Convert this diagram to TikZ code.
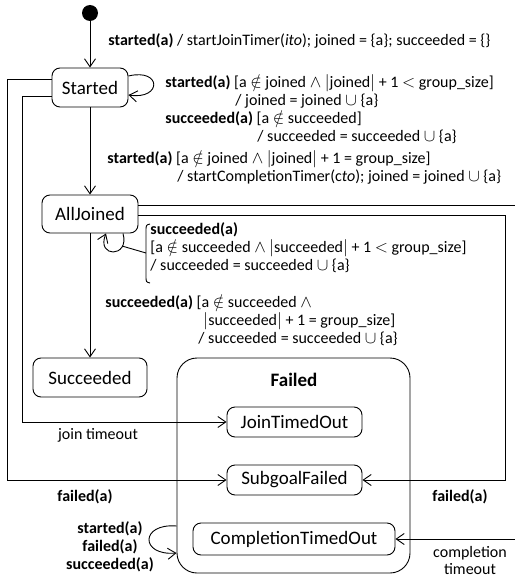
\documentclass[tikz,border=0pt]{standalone}
\usepackage{fontspec}
\setmainfont{Carlito}
\usetikzlibrary{arrows.meta}

\newcommand{\lblfont}{\fontsize{16}{17.7}\selectfont}
\newcommand{\stfont}{\fontsize{19}{22}\selectfont}

\begin{document}
\begin{tikzpicture}[x=1pt, y=-1pt, line width=0.9pt,
    state/.style={draw, rounded corners=8pt, font=\stfont, inner sep=0pt},
    composite/.style={draw, rounded corners=20pt, minimum width=233pt, minimum height=215pt},
    tr/.style={-{Straight Barb[length=8pt,width=11pt]}},
    lbl/.style={font=\lblfont, anchor=base west, inner sep=0pt},
    mlbl/.style={font=\lblfont, align=left, anchor=north west, inner sep=0pt},
    clbl/.style={font=\lblfont, align=center, anchor=north, inner sep=0pt},
    blbl/.style={clbl, font=\lblfont\bfseries}]
    \useasboundingbox (0,0) rectangle (514,583);

    % states
    \node[circle, fill=black, inner sep=0pt, minimum size=16pt] (init) at (90,13) {};
    \node[state, minimum width=76pt, minimum height=39pt] (Started) at (90,87.5) {Started};
    \node[state, minimum width=96pt, minimum height=38pt] (AllJoined) at (90,214) {AllJoined};
    \node[state, minimum width=114pt, minimum height=39pt] (Succeeded) at (90,377.5) {Succeeded};
    \node[composite] (Failed) at (293.5,465.5) {};
    \node[font=\stfont\bfseries] (FailedName) at (294,380) {Failed};
    \node[state, minimum width=135pt, minimum height=30pt] (JoinTimedOut) at (294.5,422) {JoinTimedOut};
    \node[state, minimum width=135pt, minimum height=30pt] (SubgoalFailed) at (294.5,480) {SubgoalFailed};
    \node[state, minimum width=202pt, minimum height=32pt] (CompletionTimedOut) at (294,539) {CompletionTimedOut};

    % bends
    \coordinate (lo) at (7,480);
    \coordinate (li) at (22,422);
    \coordinate (ri) at (505,480);
    \coordinate (ro) at (530,539);

    % transitions
    \draw[tr] (init) -- (Started);
    \draw[tr] (Started.east |- 0,76) .. controls (162,68) and (162,100) .. (Started.east |- 0,95);
    \draw[tr] (Started) -- (AllJoined);
    \draw[tr] (AllJoined.south -| 123,0) .. controls (130,258) and (96,258) .. (AllJoined.south -| 106,0);
    \draw[tr] (AllJoined) -- (Succeeded);
    \draw[tr] (Started.west |- 0,79) -| (lo) -- (SubgoalFailed);
    \draw[tr] (Started.west |- 0,96) -| (li) -- (JoinTimedOut);
    \draw[tr] (AllJoined.east |- 0,215) -| (ri) -- (SubgoalFailed);
    \draw[tr] (AllJoined.east |- 0,205) -| (ro) -- (CompletionTimedOut);
    \draw[tr] (Failed.west |- 0,526) .. controls (140,523) and (140,556) .. (Failed.west |- 0,553);

    % note on the AllJoined loop
    \coordinate (nt) at (150,224);
    \coordinate (nb) at (150,283);
    \coordinate (loopside) at (122,246);
    \coordinate (noteside) at (146,253);
    \draw (nt) .. controls (146,225) .. (146,231) -- (146,276) .. controls (146,282) .. (nb);
    \draw (loopside) -- (noteside);

    % labels
    \node[lbl] (tInit) at (108,46) {\textbf{started(a)} / startJoinTimer(\textit{ito}); joined = \{a\}; succeeded = \{\}};
    \node[mlbl] (tSelf) at (165,74.5) {\textbf{started(a)} {[}a $\notin$ joined $\wedge$ $|$joined$|$ + 1 $<$ group\_size{]}\\
        \hspace*{70pt}/ joined = joined $\cup$ \{a\}\\
        \textbf{succeeded(a)} {[}a $\notin$ succeeded{]}\\
        \hspace*{92pt}/ succeeded = succeeded $\cup$ \{a\}};
    \node[mlbl] (tJoin) at (107,150.5) {\textbf{started(a)} {[}a $\notin$ joined $\wedge$ $|$joined$|$ + 1 = group\_size{]}\\
        \hspace*{70pt}/ startCompletionTimer(c\textit{to}); joined = joined $\cup$ \{a\}};
    \node[mlbl] (tLoop) at (150,222.5) {\textbf{succeeded(a)}\\
        {[}a $\notin$ succeeded $\wedge$ $|$succeeded$|$ + 1 $<$ group\_size{]}\\
        / succeeded = succeeded $\cup$ \{a\}};
    \node[mlbl] (tDone) at (105,294.5) {\textbf{succeeded(a)} {[}a $\notin$ succeeded $\wedge$\\
        \hspace*{98pt}$|$succeeded$|$ + 1 = group\_size{]}\\
        \hspace*{93pt}/ succeeded = succeeded $\cup$ \{a\}};
    \node[clbl] (tJoinOut) at (98,427.5) {join timeout};
    \node[blbl] (tFailL) at (85,489.5) {failed(a)};
    \node[blbl] (tFailR) at (460,489.5) {failed(a)};
    \node[blbl] (tAny) at (110,521.5) {started(a)\\ failed(a)\\ succeeded(a)};
    \node[clbl] (tCompl) at (470,545.5) {completion\\ timeout};
\end{tikzpicture}
\end{document}
